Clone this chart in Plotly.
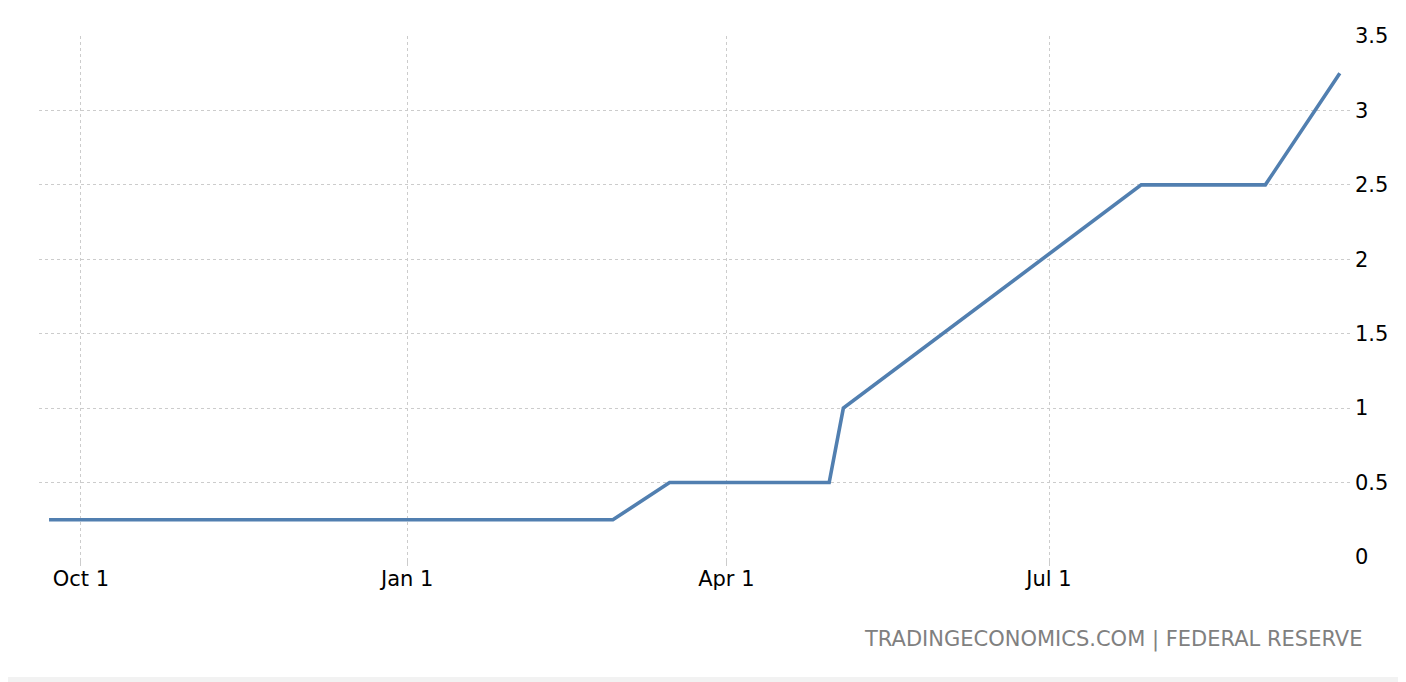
import plotly.graph_objects as go

# fed funds rate (upper bound)
dates = ['2021-09-22', '2021-11-03', '2021-12-15', '2022-01-26', '2022-02-28',
         '2022-03-16', '2022-04-30', '2022-05-04', '2022-06-15', '2022-07-27',
         '2022-08-31', '2022-09-21']
rates = [0.25, 0.25, 0.25, 0.25, 0.25, 0.5, 0.5, 1.0, 1.75, 2.5, 2.5, 3.25]

tick_dates = ['2021-10-01', '2022-01-01', '2022-04-01', '2022-07-01']
tick_labels = ['Oct 1', 'Jan 1', 'Apr 1', 'Jul 1']
y_ticks = [0, 0.5, 1, 1.5, 2, 2.5, 3, 3.5]
y_labels = ['0', '0.5', '1', '1.5', '2', '2.5', '3', '3.5']

font = 'DejaVu Sans'

fig = go.Figure()
fig.add_trace(go.Scatter(x=dates, y=rates, mode='lines',
                         line=dict(color='#517fb0', width=3.6),
                         hoverinfo='x+y', showlegend=False))

# page body has an 8px margin, so the figure is shrunk to fit the window
fig.update_layout(
    width=1398, height=674,
    margin=dict(l=31, r=56, t=28, b=125),
    paper_bgcolor='white', plot_bgcolor='white',
    font=dict(family=font, size=21, color='#000000'),
)

fig.update_xaxes(
    type='date', range=['2021-09-19 04:00', '2022-09-23 21:00'],
    tickvals=tick_dates, ticktext=tick_labels,
    showgrid=True, gridcolor='#cccccc', griddash='dot', gridwidth=1,
    ticks='outside', ticklen=8, tickcolor='#cccccc', tickwidth=1,
    ticklabelstandoff=-5,
    showline=False, zeroline=False,
    tickfont=dict(family=font, size=21, color='#000000'),
)

fig.update_yaxes(
    range=[0, 3.5], side='right',
    tickvals=y_ticks, ticktext=y_labels,
    showgrid=True, gridcolor='#cccccc', griddash='dot', gridwidth=1,
    ticks='', ticklabelstandoff=4,
    showline=False, zeroline=False,
    tickfont=dict(family=font, size=21, color='#000000'),
)

fig.add_annotation(
    text='TRADINGECONOMICS.COM | FEDERAL RESERVE',
    xref='paper', yref='paper', x=1.0115, y=-0.159,
    xanchor='right', yanchor='middle', showarrow=False,
    font=dict(family=font, size=21, color='#808080'),
)

fig.add_shape(type='rect', xref='paper', yref='paper',
              x0=-0.1, x1=1.1, y0=-0.245, y1=-0.2303,
              fillcolor='#f2f2f2', line=dict(width=0), layer='below')

fig.write_html('out.html')
